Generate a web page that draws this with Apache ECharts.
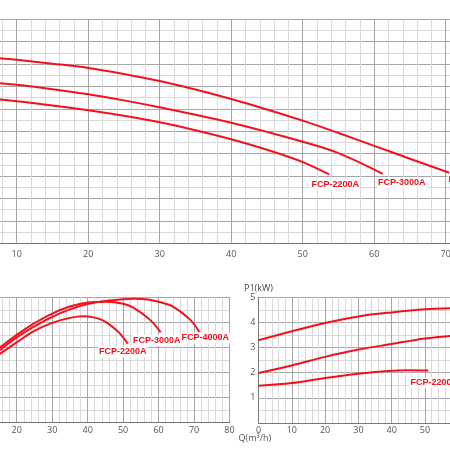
<!DOCTYPE html>
<html>
<head>
<meta charset="utf-8">
<script src="https://cdn.jsdelivr.net/npm/echarts@6/dist/echarts.min.js"></script>
<style>
  html, body { margin: 0; padding: 0; background: #fff; }
  #main { width: 450px; height: 450px; }
</style>
</head>
<body>
<div id="main"></div>
<script>
// Q-H curves (top chart)
var headQ2200 = [0, 5, 10, 15, 20, 25, 30, 35, 40, 45, 50, 53.7];
var head2200  = [13.15, 13.0, 12.68, 12.3, 11.88, 11.38, 10.8, 10.1, 9.29, 8.35, 7.25, 6.15];
var headQ3000 = [0, 5, 10, 15, 20, 25, 30, 35, 40, 45, 50, 55, 61.2];
var head3000  = [14.55, 14.42, 14.15, 13.76, 13.3, 12.76, 12.14, 11.48, 10.77, 9.95, 9.07, 8.05, 6.2];
var headQ4000 = [0, 5, 10, 15, 20, 25, 30, 35, 40, 45, 50, 55, 60, 65, 70.5];
var head4000  = [16.85, 16.68, 16.38, 16.04, 15.66, 15.12, 14.49, 13.73, 12.88, 11.95, 10.95, 9.85, 8.7, 7.55, 6.3];

// efficiency curves (bottom left)
var effQ2200 = [10, 15.3, 20, 24.7, 30, 35, 38.8, 42, 44, 46.3, 49, 51.3];
var eff2200  = [22, 27.5, 32, 36.4, 39.8, 41.8, 42.4, 41.9, 41.0, 39.0, 35.7, 31.5];
var effQ3000 = [10, 15.3, 20, 24.7, 30, 35, 40, 45.4, 50, 53, 57.6, 60.6];
var eff3000  = [24, 30, 35, 39.4, 43.5, 46.3, 47.9, 48.2, 47.4, 45.8, 41, 36];
var effQ4000 = [10, 15.3, 20, 24.7, 30, 35, 40, 45, 50, 53, 57, 61, 64.1, 68.9, 71.5];
var eff4000  = [23, 29, 34, 38.2, 42.2, 45.2, 47.3, 48.5, 49.2, 49.4, 49.1, 47.8, 46.3, 41.1, 36.2];

// P1 curves (bottom right)
var powQ2200 = [0, 10, 20, 30, 40, 45, 51];
var pow2200  = [1.48, 1.59, 1.79, 1.96, 2.08, 2.1, 2.09];
var powQ3000 = [0, 10, 20, 30, 40, 50, 60.6];
var pow3000  = [1.99, 2.29, 2.63, 2.92, 3.14, 3.36, 3.5];
var powQ4000 = [0, 10, 20, 30, 40, 50, 60, 71.5];
var pow4000  = [3.29, 3.65, 3.98, 4.24, 4.4, 4.52, 4.57, 4.6];

var names = ['FCP-2200A', 'FCP-3000A', 'FCP-4000A'];
var qLabel = 'Q(m³/h)';
var pLabel = 'P1(kW)';

var RED = '#f5101e';
var MAJOR = '#a6a6a6';
var MINOR = '#d9d9d9';

function zip(xs, ys) {
  return xs.map(function (x, i) { return [x, ys[i]]; });
}

function curve(name, xs, ys, gi, tag) {
  var pts = zip(xs, ys);
  var last = pts[pts.length - 1];
  var s = {
    type: 'line',
    name: name,
    xAxisIndex: gi,
    yAxisIndex: gi,
    data: pts,
    smooth: 0.35,
    showSymbol: false,
    silent: true,
    lineStyle: { color: RED, width: 2 },
    itemStyle: { color: RED }
  };
  if (tag) {
    s.markPoint = {
      symbol: 'circle',
      symbolSize: 1,
      itemStyle: { color: 'rgba(0,0,0,0)' },
      data: [{
        coord: last,
        label: {
          show: true,
          formatter: name,
          position: 'bottom',
          distance: 5,
          offset: tag,
          color: RED,
          fontSize: 9,
          fontWeight: 'bold',
          fontFamily: "'Liberation Sans', Arial, sans-serif",
          backgroundColor: '#fff',
          padding: [1, 1]
        }
      }]
    };
  }
  return s;
}

function xAx(gi, margin, extra) {
  var a = {
    type: 'value', gridIndex: gi, min: 0, max: 80, interval: 10,
    axisLine: { show: true, lineStyle: { color: '#777', width: 1 } },
    axisTick: { show: false },
    axisLabel: { color: '#555', fontSize: 9, margin: margin, fontFamily: "'Open Sans', sans-serif" },
    splitLine: { show: true, lineStyle: { color: MAJOR, width: 1 } },
    minorTick: { show: false, splitNumber: 5 },
    minorSplitLine: { show: true, lineStyle: { color: MINOR, width: 1 } }
  };
  for (var k in extra) a[k] = extra[k];
  return a;
}

function yAx(gi, max, interval, extra) {
  var a = {
    type: 'value', gridIndex: gi, min: 0, max: max, interval: interval,
    axisLine: { show: false },
    axisTick: { show: false },
    axisLabel: { show: false },
    splitLine: { show: true, lineStyle: { color: MAJOR, width: 1 } },
    minorTick: { show: false, splitNumber: 2 },
    minorSplitLine: { show: true, lineStyle: { color: MINOR, width: 1 } }
  };
  for (var k in extra) a[k] = extra[k];
  return a;
}

var chart = echarts.init(document.getElementById('main'), null, { renderer: 'canvas' });

chart.setOption({
  backgroundColor: '#fff',
  animation: false,
  grid: [
    { left: -54.8, top: 19.3, width: 572, height: 224, outerBoundsMode: 'none', containLabel: false },
    { left: -54.2, top: 297.3, width: 283.7, height: 125.4, outerBoundsMode: 'none', containLabel: false },
    { left: 258.5, top: 297.3, width: 266.4, height: 125.7, outerBoundsMode: 'none', containLabel: false }
  ],
  xAxis: [
    xAx(0, 7, {}),
    xAx(1, 3, {
      name: qLabel, nameLocation: 'end', nameGap: 5,
      nameTextStyle: { color: '#555', fontSize: 9, align: 'right', verticalAlign: 'top',
        padding: [11, 0, 0, 0], fontFamily: "'Open Sans', sans-serif" }
    }),
    xAx(2, 3, {})
  ],
  yAxis: [
    yAx(0, 20, 2, {}),
    yAx(1, 50, 10, {}),
    yAx(2, 5, 1, {
      axisLine: { show: true, lineStyle: { color: '#777', width: 1 } },
      axisLabel: { show: true, showMinLabel: false, color: '#555', fontSize: 9, margin: 3,
        fontFamily: "'Open Sans', sans-serif" },
      name: pLabel, nameLocation: 'end', nameGap: 4,
      nameTextStyle: { color: '#444', fontSize: 9, fontFamily: "'Open Sans', sans-serif" }
    })
  ],
  series: [
    curve(names[0], headQ2200, head2200, 0, [6, -1]),
    curve(names[1], headQ3000, head3000, 0, [19, -2]),
    curve(names[2], headQ4000, head4000, 0, [23, -4]),
    curve(names[0], effQ2200, eff2200, 1, [-5, -3]),
    curve(names[1], effQ3000, eff3000, 1, [-4, -3]),
    curve(names[2], effQ4000, eff4000, 1, [6, -5]),
    curve(names[0], powQ2200, pow2200, 2, [6, 1]),
    curve(names[1], powQ3000, pow3000, 2, null),
    curve(names[2], powQ4000, pow4000, 2, null)
  ]
});
</script>
</body>
</html>
